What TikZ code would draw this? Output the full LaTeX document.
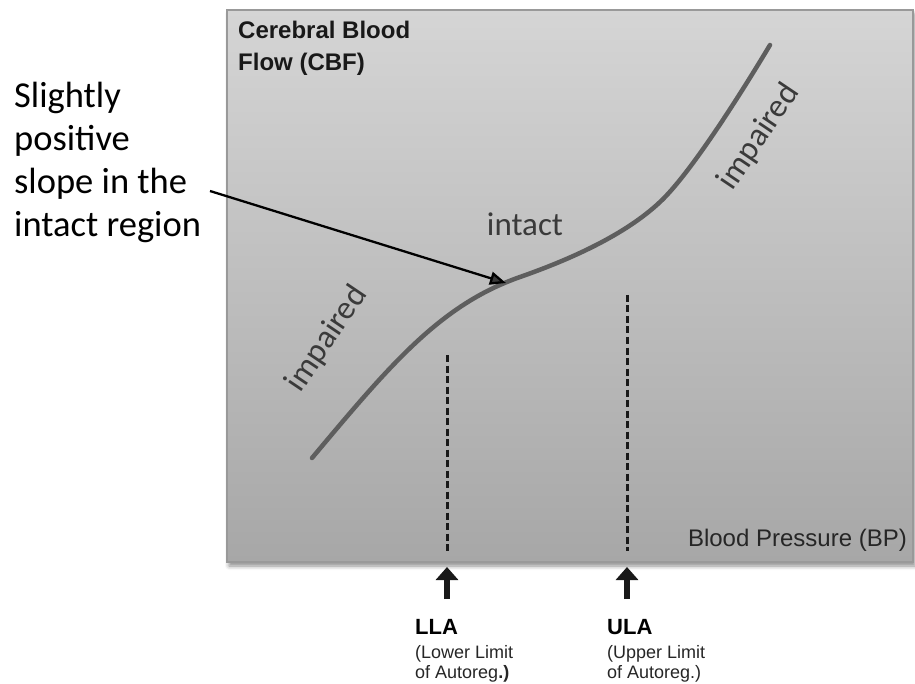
\documentclass[tikz,border=0pt]{standalone}
\usepackage{fontspec}
\usetikzlibrary{arrows.meta,shadows.blur}
\newfontfamily\calfont{Carlito}
\newfontfamily\arifont{Liberation Sans}
\definecolor{boxtop}{HTML}{D5D5D5}
\definecolor{boxbot}{HTML}{A7A7A7}
\definecolor{curvec}{HTML}{5E5E5E}
\definecolor{labc}{HTML}{3A3A3A}
\begin{document}
\begin{tikzpicture}[x=1pt,y=-1pt,
  calline/.style={anchor=base west,inner sep=0pt,font=\calfont\fontsize{36.5}{43}\selectfont},
  boxtxt/.style={anchor=base west,inner sep=0pt,font=\arifont\bfseries\fontsize{24}{30}\selectfont,text=black!90},
  regionlab/.style={inner sep=0pt,text=labc,font=\calfont\fontsize{33}{40}\selectfont},
  limtitle/.style={anchor=base west,inner sep=0pt,font=\arifont\bfseries\fontsize{22}{26}\selectfont},
  limtxt/.style={anchor=base west,inner sep=0pt,font=\arifont\fontsize{18}{20}\selectfont,text=black!85},
  limline/.style={line width=3pt,dash pattern=on 7pt off 3.5pt,black!90},
  limarrow/.style={line width=6.5pt,-{Triangle[width=22pt,length=13pt]},black!90}]
\useasboundingbox (0,0) rectangle (915,684);
% panel
\path[draw=black!40,line width=1.2pt,top color=boxtop,bottom color=boxbot,
  blur shadow={shadow xshift=2pt,shadow yshift=-4pt,shadow blur radius=4pt,shadow opacity=45}]
  (227,10) rectangle (913,562);
% axis texts
\node[boxtxt] (cbf1) at (238,39) {Cerebral Blood};
\node[boxtxt] (cbf2) at (238,71) {Flow (CBF)};
\node[anchor=base east,inner sep=0pt,font=\arifont\fontsize{24}{30}\selectfont,text=black!85] (bp) at (907,546) {Blood Pressure (BP)};
% limit lines
\coordinate (llatop) at (447,355);
\coordinate (llabot) at (447,551);
\coordinate (ulatop) at (627,295);
\coordinate (ulabot) at (627,551);
\draw[limline] (llatop) -- (llabot);
\draw[limline] (ulatop) -- (ulabot);
% curve
\draw[curvec,line width=4.5pt,line cap=round]
  (312,458) .. controls (390,365) and (440,305) .. (520,277)
  .. controls (570,259.5) and (625,235) .. (660,202)
  .. controls (690,174) and (740,95) .. (770,45);
% region labels
\node[regionlab] (intact) at (525,224) {intact};
\node[regionlab,rotate=56] (imp1) at (327,339) {impaired};
\node[regionlab,rotate=56] (imp2) at (759,137) {impaired};
% left annotation
\node[calline] (s1) at (14,108) {Slightly};
\node[calline] (s2) at (14,151) {positive};
\node[calline] (s3) at (14,194) {slope in the};
\node[calline] (s4) at (14,237) {intact region};
\coordinate (arrs) at (210,191);
\coordinate (arrt) at (506,283);
\draw[line width=2.3pt,-{Triangle[width=13pt,length=16pt]}] (arrs) -- (arrt);
% limit arrows
\coordinate (llaa) at (447,599);
\coordinate (llah) at (447,567);
\coordinate (ulaa) at (627,599);
\coordinate (ulah) at (627,567);
\draw[limarrow] (llaa) -- (llah);
\draw[limarrow] (ulaa) -- (ulah);
% limit labels
\node[limtitle] (lla) at (415,634) {LLA};
\node[limtxt] (lla2) at (415,658) {(Lower Limit};
\node[limtxt] (lla3) at (415,678) {of Autoreg\textbf{.)}};
\node[limtitle] (ula) at (607,634) {ULA};
\node[limtxt] (ula2) at (607,658) {(Upper Limit};
\node[limtxt] (ula3) at (607,678) {of Autoreg.)};
\end{tikzpicture}
\end{document}
